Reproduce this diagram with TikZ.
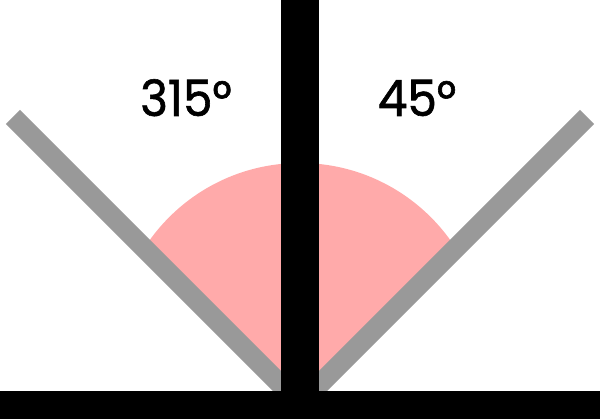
\documentclass[tikz,border=0pt]{standalone}
\usepackage{fontspec}
\setmainfont{Poppins}
\newfontfamily\labelfont[FakeBold=1.2, FakeStretch=0.94]{Poppins}
\definecolor{arcpink}{HTML}{FFAAAA}
\definecolor{armgray}{HTML}{999999}
\tikzset{
  arm/.style={draw=armgray, line width=20pt, line cap=butt},
  bar/.style={fill=black, draw=none},
  angletext/.style={font=\labelfont\fontsize{50}{50}\selectfont, anchor=base, inner sep=0pt}
}
\begin{document}
\begin{tikzpicture}[x={(1pt,0)}, y={(0,-1pt)}]
\useasboundingbox (0,0) rectangle (600,419);
\coordinate (vertex) at (300,404);
\coordinate (leftend) at (13,117);
\coordinate (rightend) at (587,117);
\coordinate (arccenter) at (300,348);
% pink sector: circle clipped to the V
\begin{scope}
  \clip (vertex) -- (leftend) -- (0,60) -- (600,60) -- (rightend) -- cycle;
  \fill[arcpink] (arccenter) circle[radius=185pt];
\end{scope}
% gray arms
\draw[arm] (leftend) -- (vertex);
\draw[arm] (rightend) -- (vertex);
% black bars
\fill[bar] (281.3,0) rectangle (318.7,391);
\fill[bar] (0,390.7) rectangle (600,419);
% labels
\node[angletext] (left label) at (186,116) {315°};
\node[angletext] (right label) at (417,116) {45°};
\end{tikzpicture}
\end{document}
